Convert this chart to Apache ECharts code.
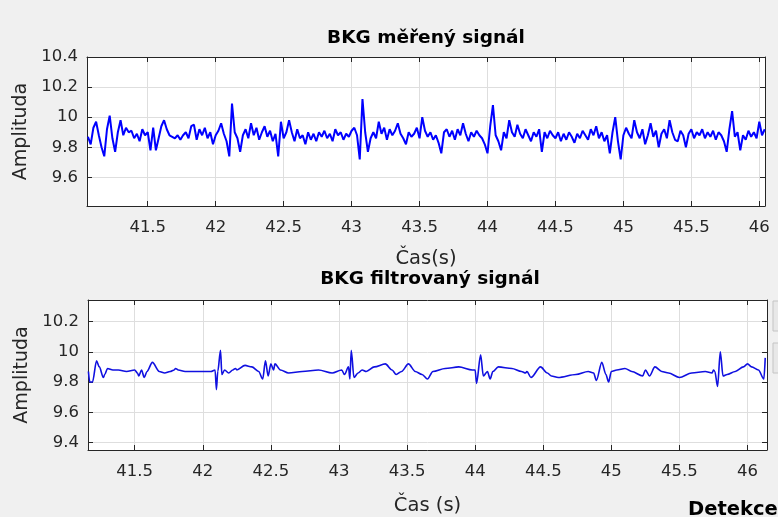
<!DOCTYPE html>
<html>
<head>
<meta charset="utf-8">
<script src="https://cdn.jsdelivr.net/npm/echarts@6/dist/echarts.min.js"></script>
<style>
  html, body { margin: 0; padding: 0; background: #f0f0f0; }
  #chart { width: 778px; height: 517px; }
</style>
</head>
<body>
<div id="chart"></div>
<script>
// Measured BCG signal: uniform sampling from rawStart with step rawStep
const rawStart = 41.06;
const rawStep = 0.02;
const rawAmp = [
  9.87, 9.82, 9.93, 9.97, 9.88,  9.80, 9.74, 9.92, 10.01, 9.86,
  9.77, 9.90, 9.98, 9.88, 9.93,  9.90, 9.91, 9.86, 9.89, 9.84,
  9.92, 9.88, 9.90, 9.78, 9.93,  9.78, 9.86, 9.94, 9.98, 9.92,
  9.88, 9.87, 9.86, 9.88, 9.85,  9.88, 9.90, 9.86, 9.94, 9.95,
  9.85, 9.92, 9.88, 9.93, 9.86,  9.90, 9.82, 9.88, 9.91, 9.96,
  9.89, 9.84, 9.74, 10.09, 9.90, 9.86, 9.77, 9.88, 9.92, 9.86,
  9.96, 9.88, 9.93, 9.85, 9.90,  9.94, 9.87, 9.91, 9.84, 9.89,
  9.74, 9.97, 9.86, 9.90, 9.98,  9.90, 9.84, 9.92, 9.86, 9.88,
  9.82, 9.90, 9.85, 9.89, 9.84,  9.90, 9.87, 9.91, 9.86, 9.89,
  9.84, 9.92, 9.88, 9.90, 9.85,  9.89, 9.87, 9.91, 9.93, 9.88,
  9.72, 10.12, 9.90, 9.77, 9.86, 9.90, 9.86, 9.97, 9.89, 9.93,
  9.85, 9.92, 9.88, 9.91, 9.96,  9.89, 9.86, 9.82, 9.90, 9.87,
  9.89, 9.93, 9.86, 10.00, 9.91, 9.87, 9.90, 9.85, 9.88, 9.83,
  9.76, 9.90, 9.92, 9.87, 9.91,  9.85, 9.92, 9.88, 9.96, 9.89,
  9.84, 9.90, 9.87, 9.91, 9.88,  9.86, 9.82, 9.76, 9.94, 10.08,
  9.88, 9.84, 9.78, 9.90, 9.86,  9.98, 9.90, 9.87, 9.95, 9.89,
  9.86, 9.92, 9.88, 9.84, 9.90,  9.87, 9.92, 9.77, 9.90, 9.86,
  9.91, 9.88, 9.86, 9.90, 9.84,  9.89, 9.85, 9.90, 9.87, 9.83,
  9.89, 9.86, 9.91, 9.88, 9.85,  9.92, 9.88, 9.94, 9.86, 9.90,
  9.84, 9.88, 9.76, 9.90, 10.00, 9.84, 9.72, 9.88, 9.93, 9.89,
  9.86, 9.98, 9.90, 9.86, 9.92,  9.82, 9.88, 9.96, 9.87, 9.91,
  9.80, 9.89, 9.92, 9.86, 9.98,  9.90, 9.85, 9.84, 9.91, 9.88,
  9.80, 9.89, 9.92, 9.86, 9.90,  9.88, 9.92, 9.86, 9.90, 9.87,
  9.91, 9.85, 9.90, 9.88, 9.84,  9.77, 9.92, 10.04, 9.87, 9.90,
  9.78, 9.88, 9.85, 9.91, 9.87,  9.90, 9.86, 9.97, 9.88, 9.92
];

// Filtered BCG signal: time / amplitude pairs
const filtTime = [
  41.16, 41.17, 41.19, 41.22, 41.24, 41.27, 41.28, 41.30, 41.34, 41.38,
  41.44, 41.50, 41.52, 41.53, 41.55, 41.57, 41.59, 41.63, 41.68, 41.72,
  41.76, 41.79, 41.80, 41.82, 41.87, 41.95, 42.00, 42.06, 42.09, 42.10,
  42.11, 42.13, 42.14, 42.16, 42.19, 42.22, 42.24, 42.25, 42.31, 42.36,
  42.41, 42.44, 42.46, 42.48, 42.50, 42.52, 42.53, 42.57, 42.63, 42.73,
  42.85, 42.95, 43.02, 43.04, 43.07, 43.08, 43.09, 43.11, 43.14, 43.17,
  43.20, 43.26, 43.34, 43.39, 43.42, 43.46, 43.51, 43.56, 43.61, 43.65,
  43.69, 43.78, 43.88, 43.98, 44.00, 44.01, 44.04, 44.06, 44.09, 44.11,
  44.13, 44.17, 44.27, 44.34, 44.37, 44.38, 44.41, 44.48, 44.53, 44.56,
  44.61, 44.74, 44.83, 44.87, 44.89, 44.93, 44.96, 44.98, 45.00, 45.04,
  45.10, 45.15, 45.23, 45.25, 45.28, 45.32, 45.37, 45.42, 45.50, 45.59,
  45.69, 45.74, 45.75, 45.76, 45.78, 45.80, 45.82, 45.85, 45.91, 45.97,
  46.00, 46.03, 46.08, 46.12, 46.13
];
const filtAmp = [
  9.87, 9.80, 9.80, 9.94, 9.90, 9.83, 9.85, 9.89, 9.88, 9.88,
  9.87, 9.88, 9.86, 9.84, 9.88, 9.83, 9.87, 9.93, 9.87, 9.86,
  9.87, 9.88, 9.89, 9.88, 9.87, 9.87, 9.87, 9.87, 9.88, 9.75,
  9.87, 10.01, 9.85, 9.88, 9.86, 9.88, 9.89, 9.88, 9.91, 9.90,
  9.87, 9.82, 9.94, 9.84, 9.92, 9.88, 9.92, 9.88, 9.86, 9.87,
  9.88, 9.86, 9.88, 9.85, 9.90, 9.82, 10.01, 9.83, 9.86, 9.88,
  9.87, 9.90, 9.92, 9.88, 9.85, 9.87, 9.92, 9.87, 9.85, 9.82,
  9.87, 9.89, 9.90, 9.88, 9.88, 9.79, 9.98, 9.84, 9.87, 9.82,
  9.87, 9.90, 9.89, 9.87, 9.86, 9.87, 9.83, 9.90, 9.86, 9.84,
  9.83, 9.85, 9.87, 9.86, 9.81, 9.93, 9.85, 9.80, 9.87, 9.88,
  9.89, 9.87, 9.84, 9.88, 9.84, 9.90, 9.87, 9.86, 9.83, 9.86,
  9.87, 9.86, 9.88, 9.87, 9.77, 10.00, 9.84, 9.85, 9.87, 9.90,
  9.92, 9.90, 9.88, 9.82, 9.96
];

// Axis ranges and tick values
const rawXRange = [41.053, 46.042];
const rawYRange = [9.41, 10.4];
const filtXRange = [41.157, 46.143];
const filtYRange = [9.35, 10.343];
const timeTicks = [41.5, 42, 42.5, 43, 43.5, 44, 44.5, 45, 45.5, 46];
const rawYTicks = [9.6, 9.8, 10, 10.2, 10.4];
const filtYTicks = [9.4, 9.6, 9.8, 10, 10.2];

const rawTitle = 'BKG měřený signál';
const filtTitle = 'BKG filtrovaný signál';
const rawXName = 'Čas(s)';
const filtXName = 'Čas (s)';
const yName = 'Amplituda';
const cornerText = 'Detekce';

const FONT = 'DejaVu Sans';
const AX = '#262626';
const GRID = '#dedede';

const rawData = rawAmp.map((v, i) => [+(rawStart + i * rawStep).toFixed(2), v]);
const filtData = filtTime.map((t, i) => [t, filtAmp[i]]);

function xMain(gridIndex, range, name, nameGap) {
  return {
    type: 'value', gridIndex, min: range[0], max: range[1], position: 'bottom',
    name, nameLocation: 'middle', nameGap,
    nameTextStyle: { fontFamily: FONT, fontSize: 19.5, color: AX },
    axisLine: { show: true, onZero: false, lineStyle: { color: AX, width: 1 } },
    axisTick: { show: true, inside: true, length: 5, customValues: timeTicks, lineStyle: { color: AX } },
    axisLabel: { show: true, customValues: timeTicks, margin: 13, fontFamily: FONT, fontSize: 16.5, color: AX },
    splitLine: { show: true, lineStyle: { color: GRID, width: 1 } }
  };
}
function xTop(gridIndex, range) {
  return {
    type: 'value', gridIndex, min: range[0], max: range[1], position: 'top',
    axisLine: { show: true, onZero: false, lineStyle: { color: AX, width: 1 } },
    axisTick: { show: true, inside: true, length: 5, customValues: timeTicks, lineStyle: { color: AX } },
    axisLabel: { show: false },
    splitLine: { show: false }
  };
}
function yMain(gridIndex, range, ticks, nameGap) {
  return {
    type: 'value', gridIndex, min: range[0], max: range[1], position: 'left',
    name: yName, nameLocation: 'middle', nameGap, nameRotate: 90,
    nameTextStyle: { fontFamily: FONT, fontSize: 19, color: AX },
    axisLine: { show: true, onZero: false, lineStyle: { color: AX, width: 1 } },
    axisTick: { show: true, inside: true, length: 5, customValues: ticks, lineStyle: { color: AX } },
    axisLabel: { show: true, customValues: ticks, margin: 9, fontFamily: FONT, fontSize: 16.5, color: AX },
    splitLine: { show: true, lineStyle: { color: GRID, width: 1 } }
  };
}
function yRight(gridIndex, range, ticks) {
  return {
    type: 'value', gridIndex, min: range[0], max: range[1], position: 'right',
    axisLine: { show: true, onZero: false, lineStyle: { color: AX, width: 1 } },
    axisTick: { show: true, inside: true, length: 5, customValues: ticks, lineStyle: { color: AX } },
    axisLabel: { show: false },
    splitLine: { show: false }
  };
}

const chart = echarts.init(document.getElementById('chart'), null, { renderer: 'canvas' });
chart.setOption({
  backgroundColor: '#f0f0f0',
  animation: false,
  title: [
    {
      text: rawTitle, left: 426, top: 29, textAlign: 'center', padding: 0,
      textStyle: { fontFamily: FONT, fontSize: 18.5, fontWeight: 'bold', color: '#000' }
    },
    {
      // drawn over the lower edge of the upper plot's axis name
      text: filtTitle, left: 426, top: 267, textAlign: 'center', padding: [3, 4, 2, 4],
      backgroundColor: '#f0f0f0',
      textStyle: { fontFamily: FONT, fontSize: 18.5, fontWeight: 'bold', color: '#000' }
    },
    {
      text: cornerText, left: 688, top: 500, padding: 0,
      textStyle: { fontFamily: FONT, fontSize: 19.5, fontWeight: 'bold', color: '#000' }
    }
  ],
  grid: [
    { left: 87, top: 57, width: 678, height: 149, show: true, backgroundColor: '#ffffff', borderWidth: 0 },
    { left: 88, top: 300, width: 679, height: 151, show: true, backgroundColor: '#ffffff', borderWidth: 0 }
  ],
  xAxis: [
    xMain(0, rawXRange, rawXName, 43),
    xTop(0, rawXRange),
    xMain(1, filtXRange, filtXName, 46),
    xTop(1, filtXRange)
  ],
  yAxis: [
    yMain(0, rawYRange, rawYTicks, 56),
    yRight(0, rawYRange, rawYTicks),
    yMain(1, filtYRange, filtYTicks, 56),
    yRight(1, filtYRange, filtYTicks)
  ],
  graphic: [
    { type: 'rect', shape: { x: 773, y: 301, width: 8, height: 30 }, style: { fill: '#e8e8e8', stroke: '#c4c4c4', lineWidth: 1 }, silent: true },
    { type: 'rect', shape: { x: 773, y: 343, width: 8, height: 30 }, style: { fill: '#e8e8e8', stroke: '#c4c4c4', lineWidth: 1 }, silent: true }
  ],
  series: [
    {
      type: 'line', xAxisIndex: 0, yAxisIndex: 0, data: rawData,
      showSymbol: false, clip: true,
      lineStyle: { color: '#0000ff', width: 2 }
    },
    {
      type: 'line', xAxisIndex: 2, yAxisIndex: 2, data: filtData,
      showSymbol: false, clip: true, smooth: 0.3, smoothMonotone: 'x',
      lineStyle: { color: '#1010e0', width: 1.6 }
    }
  ]
});
</script>
</body>
</html>
